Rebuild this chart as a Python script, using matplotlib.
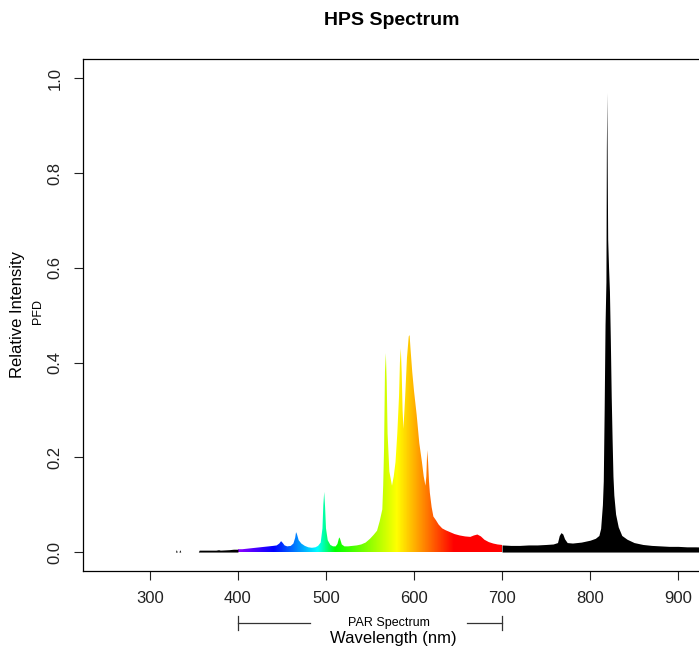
import numpy as np
import matplotlib
matplotlib.use("Agg")
from matplotlib import pyplot as plt
from matplotlib.colors import LinearSegmentedColormap

plt.rcParams['font.family'] = ['Liberation Sans', 'DejaVu Sans']

# HPS lamp spectrum (wavelength nm, relative PFD)
wavelength = [250, 329, 330, 331, 333, 334, 335, 355, 356, 365, 375, 378, 380, 390, 395,
              400, 405, 410, 415, 420, 425, 430, 435, 440, 444, 447, 449, 451, 453, 456,
              460, 463, 465, 466, 467, 469, 472, 476, 480, 484, 488, 491, 494, 496, 497,
              498, 499, 500, 502, 505, 508, 511, 513, 515, 516, 518, 521, 525, 530, 535,
              540, 545, 550, 554, 558, 561, 564, 565, 566, 567, 568, 569, 570, 572, 575,
              577, 579, 581, 583, 584, 585, 586, 587, 588, 590, 592, 594, 595, 596, 598,
              600, 603, 606, 609, 611, 613, 614, 615, 616, 617, 618, 620, 622, 625, 628,
              632, 636, 641, 646, 652, 658, 664, 668, 672, 676, 680, 685, 690, 695, 700,
              710, 720, 730, 740, 750, 758, 763, 765, 767, 769, 771, 774, 780, 790, 800,
              806, 810, 812, 814, 815, 816, 817, 818, 818.5, 819, 819.5, 820, 821, 822, 823,
              824, 825, 826, 827, 829, 832, 836, 842, 850, 860, 870, 880, 890, 900, 910,
              920, 935]
intensity = [0, 0, 0.005, 0, 0, 0.005, 0, 0, 0.004, 0.004, 0.004, 0.005, 0.004, 0.005, 0.006,
             0.006, 0.006, 0.007, 0.008, 0.009, 0.010, 0.011, 0.012, 0.013, 0.014, 0.018, 0.023, 0.019, 0.014, 0.012,
             0.013, 0.018, 0.030, 0.042, 0.038, 0.025, 0.018, 0.013, 0.010, 0.009, 0.010, 0.013, 0.020, 0.050, 0.100,
             0.127, 0.095, 0.050, 0.025, 0.015, 0.012, 0.012, 0.017, 0.031, 0.028, 0.016, 0.012, 0.012, 0.013, 0.014,
             0.016, 0.020, 0.028, 0.036, 0.045, 0.065, 0.090, 0.14, 0.22, 0.38, 0.42, 0.36, 0.25, 0.17, 0.14,
             0.16, 0.19, 0.25, 0.33, 0.40, 0.43, 0.38, 0.30, 0.26, 0.33, 0.41, 0.455, 0.458, 0.43, 0.38,
             0.34, 0.29, 0.23, 0.19, 0.16, 0.14, 0.16, 0.215, 0.19, 0.15, 0.125, 0.095, 0.075, 0.067, 0.058,
             0.050, 0.046, 0.042, 0.038, 0.035, 0.033, 0.032, 0.035, 0.037, 0.033, 0.026, 0.021, 0.018, 0.016, 0.015,
             0.014, 0.014, 0.015, 0.015, 0.016, 0.017, 0.020, 0.035, 0.041, 0.038, 0.028, 0.020, 0.019, 0.021, 0.025,
             0.029, 0.035, 0.05, 0.10, 0.15, 0.30, 0.48, 0.57, 0.85, 0.97, 0.80, 0.66, 0.60, 0.55, 0.45,
             0.33, 0.24, 0.16, 0.12, 0.08, 0.053, 0.035, 0.027, 0.020, 0.016, 0.014, 0.013, 0.012, 0.012, 0.011,
             0.011, 0.010]

x_ticks = [300, 400, 500, 600, 700, 800, 900]
y_ticks = [0.0, 0.2, 0.4, 0.6, 0.8, 1.0]

W, H = 699, 651


def main():
    wl = np.array(wavelength, dtype=float)
    it = np.array(intensity, dtype=float)

    fig = plt.figure(figsize=(W / 100, H / 100), dpi=100)
    # plot box: left 83px, right just past the edge, top 59px, bottom 571px
    ax = fig.add_axes([83 / W, (H - 571) / H, (701 - 83) / W, (571 - 59.3) / H])

    # black outside PAR
    lo = wl <= 400
    hi = wl >= 700
    ax.fill_between(wl[lo], 0, it[lo], color="black", lw=0)
    ax.fill_between(wl[hi], 0, it[hi], color="black", lw=0)

    # coloured PAR band
    spec = LinearSegmentedColormap.from_list("spec", [
        (0.0, (0.55, 0.0, 1.0)),
        (40 / 300, (0.0, 0.0, 1.0)),
        (90 / 300, (0.0, 1.0, 1.0)),
        (110 / 300, (0.0, 1.0, 0.0)),
        (180 / 300, (1.0, 1.0, 0.0)),
        (245 / 300, (1.0, 0.0, 0.0)),
        (1.0, (1.0, 0.0, 0.0)),
    ])
    par = (wl >= 400) & (wl <= 700)
    poly = ax.fill_between(wl[par], 0, it[par], color="none", lw=0)
    grad = np.linspace(0, 1, 600).reshape(1, -1)
    im = ax.imshow(grad, extent=(400, 700, 0, 1.04), aspect="auto", cmap=spec,
                   origin="lower", interpolation="bilinear")
    im.set_clip_path(poly.get_paths()[0], transform=ax.transData)

    ax.set_xlim(224, 926)
    ax.set_ylim(-0.04, 1.04)
    ax.set_xticks(x_ticks)
    ax.set_yticks(y_ticks)
    ax.set_yticklabels(["%.1f" % v for v in y_ticks], rotation=90, va="center")
    ax.tick_params(direction="out", length=6.5, width=0.8, labelsize=12, pad=8, colors="#222222")
    for s in ax.spines.values():
        s.set_linewidth(0.9)

    fig.text(392 / W, 1 - 20.7 / H, "HPS Spectrum", ha="center", va="center",
             fontsize=14, fontweight="bold")
    fig.text(393 / W, 1 - 638 / H, "Wavelength (nm)", ha="center", va="center", fontsize=12)
    fig.text(18 / W, 1 - 315 / H, "Relative Intensity", ha="center", va="center",
             rotation=90, fontsize=12)
    fig.text(38 / W, 1 - 311 / H, "PFD", ha="center", va="center", rotation=90, fontsize=9)

    # PAR bracket under the axis
    tr = ax.get_xaxis_transform()
    yl = (571 - 622.7) / (571 - 59.3)
    y1 = (571 - 616) / (571 - 59.3)
    y2 = (571 - 630) / (571 - 59.3)
    kw = dict(color="#333333", lw=0.9, transform=tr, clip_on=False)
    ax.plot([400, 482], [yl, yl], **kw)
    ax.plot([660, 700], [yl, yl], **kw)
    ax.plot([400, 400], [y1, y2], **kw)
    ax.plot([700, 700], [y1, y2], **kw)
    ax.text(571, yl, "PAR Spectrum", transform=tr, ha="center", va="center", fontsize=9)

    fig.savefig("out.png", dpi=100)


if __name__ == "__main__":
    main()
